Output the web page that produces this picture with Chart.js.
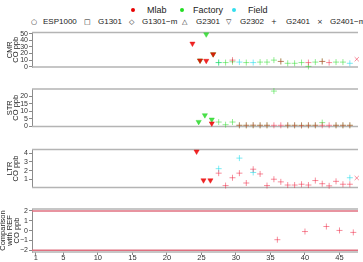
<!DOCTYPE html>
<html lang="en">
  <head>
    <meta charset="UTF-8" />
    <script src="https://cdn.jsdelivr.net/npm/chart.js"></script>
    <title>CO sensors</title>
    <style>
      body {
        margin: 0;
        width: 363px;
        height: 262px;
        overflow: hidden;
        background: #fff;
        position: relative;
        font-family: "Liberation Sans", Arial, sans-serif;
        color: #222;
      }
      canvas { position: absolute; left: 0; }
      .t { position: absolute; white-space: nowrap; line-height: 10px; }
      .r1 { top: 5px; font-size: 9px; }
      .r2 { top: 17px; font-size: 8px; }
      .sym { font-size: 7px; font-family: "DejaVu Sans", sans-serif; }
      .dot { position: absolute; top: 8px; width: 4px; height: 4px; border-radius: 50%; }
    </style>
  </head>

  <body>
    <!-- legend: sites -->
    <span class="dot" style="left:131px;background:#e80000"></span>
    <span class="t r1" style="left:147px">Mlab</span>
    <span class="dot" style="left:180px;background:#22dd22"></span>
    <span class="t r1" style="left:193px">Factory</span>
    <span class="dot" style="left:232px;background:#33dded"></span>
    <span class="t r1" style="left:248px">Field</span>

    <!-- legend: sensors -->
    <span class="t r2 sym" style="left:31px">○</span>
    <span class="t r2" style="left:43px">ESP1000</span>
    <span class="t r2 sym" style="left:84px">□</span>
    <span class="t r2" style="left:98px">G1301</span>
    <span class="t r2 sym" style="left:129px">◇</span>
    <span class="t r2" style="left:142px">G1301−m</span>
    <span class="t r2 sym" style="left:182px">△</span>
    <span class="t r2" style="left:196px">G2301</span>
    <span class="t r2 sym" style="left:226px">▽</span>
    <span class="t r2" style="left:240px">G2302</span>
    <span class="t r2 sym" style="left:271px">+</span>
    <span class="t r2" style="left:286px">G2401</span>
    <span class="t r2 sym" style="left:317px">×</span>
    <span class="t r2" style="left:330px">G2401−m</span>

    <canvas id="cmr" width="363" height="55" style="top:27px"></canvas>
    <canvas id="str" width="363" height="58" style="top:84px"></canvas>
    <canvas id="ltr" width="363" height="59" style="top:144px"></canvas>
    <canvas id="cmp" width="363" height="58" style="top:204px"></canvas>

    <script>
      // hours of the G2401 readings (shared by the three top panels)
      const crossHours = [27.5, 28.5, 29.5, 30.5, 31.5, 32.5, 33.5, 34.5, 35.5, 36.5,
        37.5, 38.5, 39.5, 40.5, 41.5, 42.5, 43.5, 44.5, 45.5, 46.5];
      const xmHours = [47.5];
      const xTicks = [1, 5, 10, 15, 20, 25, 30, 35, 40, 45];

      // CMR
      const cmrTriHours = [23.7, 24.8, 25.7, 26.7];
      const cmrTriMlab = [35, 9.5, 9, 19];
      const cmrTriFactory = [null, 9.5, 49, 19];
      const cmrCrossMlab = [null, null, 10, null, null, null, null, null, null, 8,
        null, null, null, 6.3, null, 8, 6.3, null, null, null];
      const cmrCrossFactory = [6.3, 6.3, 7.5, null, 6.3, null, 7, 7, 10, 8,
        5.2, 5.2, 6.3, 0.5, 7, 8, null, 7, 7, null];
      const cmrCrossField = [6.3, null, null, 7, null, 6.3, null, null, null, null,
        null, null, null, null, null, null, null, null, null, 5.2];
      const cmrXmMlab = [11.4];

      // STR
      const strTriHours = [24.6, 25.5, 26.5];
      const strTriMlab = [null, null, 1.8];
      const strTriFactory = [2.8, 7.3, 4.4];
      const strCrossMlab = [null, null, null, 0.5, 0.5, 0.6, 0.5, 0.5, 0.5, 0.5,
        0.5, 0.5, 0.4, 0.5, 0.5, 0.5, 0.5, 0.5, 0.5, 0.5];
      const strCrossFactory = [2.7, 0.9, 2.7, 0.5, 0.5, 0.5, 0.5, 0.5, 23.5, null,
        0.5, 0.5, 0.5, 0.5, 0.5, 2.3, null, 0.5, 0.5, 0.5];

      // LTR
      const ltrTriHours = [24.3, 25.3, 26.3];
      const ltrTriMlab = [4.18, 0.91, 0.91];
      const ltrCrossMlab = [1.72, 0.31, 1.2, 1.72, 0.6, 2.17, 1.63, 0.31, 1.03, 0.73,
        0.37, 0.37, 0.46, 0.37, 0.88, 0.52, 0.28, 0.79, 0.46, 0.46];
      const ltrCrossField = [2.23, null, null, 3.43, null, 1.8, null, null, null, null,
        null, null, null, null, null, null, null, null, null, 1.2];
      const ltrXmMlab = [1.17];

      // comparison with reference analyser
      const cmpHours = [36, 40, 43.1, 45, 47];
      const cmpMlab = [-0.92, -0.09, 0.42, 0.02, -0.18];
      const cmpLimits = [2, -2];

      const xMin = 0.46;
      const xMax = 47.68;

      const triRed = "rgba(235,0,0,0.85)";
      const triGreen = "rgba(30,215,30,0.8)";
      const crossRed = "rgba(240,30,60,0.5)";
      const crossGreen = "rgba(40,220,40,0.5)";
      const crossCyan = "rgba(40,220,235,0.6)";

      const pts = (xs, ys) =>
        xs.map((x, i) => ({ x: x, y: ys[i] })).filter((p) => p.y != null);

      const tri = (xs, ys, color) => ({
        data: pts(xs, ys),
        pointStyle: "triangle",
        rotation: 180,
        pointRadius: 3,
        backgroundColor: color,
        borderColor: color,
        borderWidth: 0.5,
        clip: false,
      });
      const cross = (xs, ys, color, style) => ({
        data: pts(xs, ys),
        pointStyle: style || "cross",
        pointRadius: 3,
        borderColor: color,
        backgroundColor: color,
        borderWidth: 1,
        clip: false,
      });

      // top / bottom frame lines of each panel
      const framePlugin = {
        id: "frame",
        beforeDatasetsDraw(chart) {
          const { ctx, chartArea: a } = chart;
          ctx.save();
          ctx.strokeStyle = "#b4b4b4";
          ctx.lineWidth = 1.4;
          ctx.beginPath();
          ctx.moveTo(a.left, a.top);
          ctx.lineTo(a.right, a.top);
          ctx.moveTo(a.left, a.bottom);
          ctx.lineTo(a.right, a.bottom);
          ctx.stroke();
          ctx.restore();
        },
      };

      const makePanel = (id, title, yMin, yMax, yTicks, datasets, padTop, padBottom, showX) => {
        new Chart(document.getElementById(id), {
          type: "scatter",
          data: { datasets: datasets },
          plugins: [framePlugin],
          options: {
            responsive: false,
            animation: false,
            events: [],
            layout: { padding: { top: padTop, bottom: padBottom, left: 0, right: 0 } },
            plugins: { legend: { display: false }, tooltip: { enabled: false } },
            scales: {
              x: {
                type: "linear",
                display: showX,
                min: xMin,
                max: xMax,
                afterBuildTicks: (s) => { s.ticks = xTicks.map((v) => ({ value: v })); },
                afterFit: (s) => { s.height = 10; },
                border: { display: false },
                grid: { drawOnChartArea: false, drawTicks: true, tickLength: 3, color: "#888" },
                ticks: {
                  autoSkip: false,
                  maxRotation: 0,
                  padding: -1,
                  color: "#333",
                  font: { family: "Liberation Sans", size: 7.5, lineHeight: 1 },
                },
              },
              y: {
                min: yMin,
                max: yMax,
                afterBuildTicks: (s) => { s.ticks = yTicks.map((v) => ({ value: v })); },
                afterFit: (s) => { s.width = 32; },
                border: { color: "#8c8c8c", width: 1 },
                grid: { drawOnChartArea: false, drawTicks: true, tickLength: 3, color: "#888" },
                ticks: {
                  autoSkip: false,
                  padding: 1,
                  color: "#333",
                  font: { family: "Liberation Sans", size: 7, lineHeight: 1 },
                  callback: (v) => String(v).replace("-", "\u2212"),
                },
                title: {
                  display: true,
                  text: title,
                  color: "#222",
                  padding: { top: title.length > 2 ? 0 : 6.4, bottom: 0 },
                  font: { family: "Liberation Sans", size: 7.5, lineHeight: 0.88 },
                },
              },
            },
          },
        });
      };

      makePanel("cmr", ["CMR", "CO ppb"], -0.4, 51.8, [0, 10, 20, 30, 40, 50], [
        tri(cmrTriHours, cmrTriMlab, triRed),
        tri(cmrTriHours, cmrTriFactory, triGreen),
        cross(xmHours, cmrXmMlab, crossRed, "crossRot"),
        cross(crossHours, cmrCrossMlab, crossRed),
        cross(crossHours, cmrCrossFactory, crossGreen),
        cross(crossHours, cmrCrossField, crossCyan),
      ], 5.5, 5, false);

      makePanel("str", ["STR", "CO ppb"], -0.3, 24.9, [0, 5, 10, 15, 20], [
        tri(strTriHours, strTriMlab, triRed),
        tri(strTriHours, strTriFactory, triGreen),
        cross(crossHours, strCrossMlab, crossRed),
        cross(crossHours, strCrossFactory, crossGreen),
      ], 5, 5.5, false);

      makePanel("ltr", ["LTR", "CO ppb"], 0.09, 4.41, [1, 2, 3, 4], [
        tri(ltrTriHours, ltrTriMlab, triRed),
        cross(xmHours, ltrXmMlab, crossRed, "crossRot"),
        cross(crossHours, ltrCrossMlab, crossRed),
        cross(crossHours, ltrCrossField, crossCyan),
      ], 5.5, 5.5, false);

      const limitLines = cmpLimits.map((v) => ({
        type: "line",
        data: [{ x: xMin, y: v }, { x: xMax, y: v }],
        borderColor: "#e07080",
        borderWidth: 1.5,
        pointRadius: 0,
      }));

      makePanel("cmp", ["Comparison", "with REF", "CO ppb"], -2.17, 2.2, [-2, -1, 0, 1, 2], [
        cross(cmpHours, cmpMlab, crossRed),
        ...limitLines,
      ], 5, 0, true);
    </script>
  </body>
</html>
